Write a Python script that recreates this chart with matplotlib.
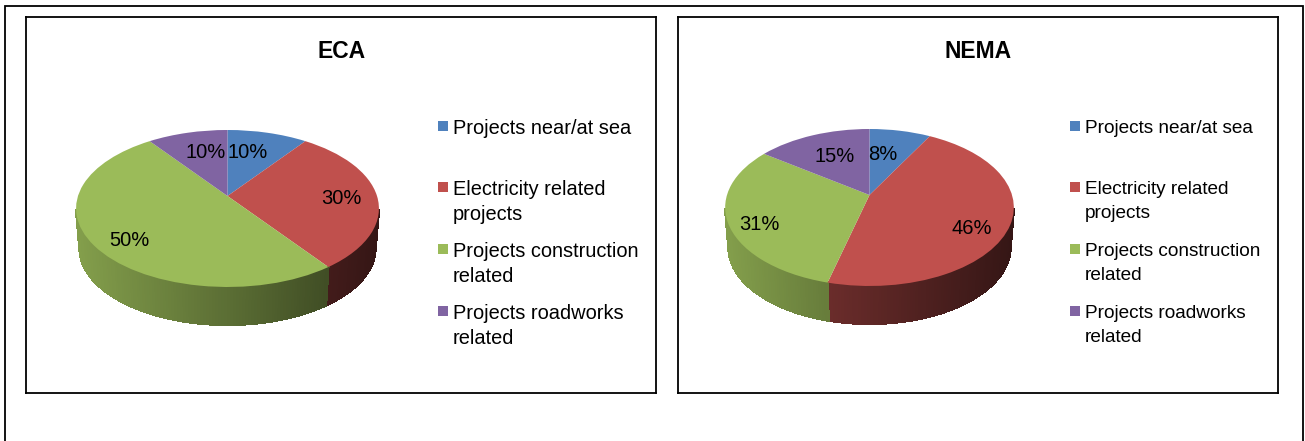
import numpy as np
import matplotlib
matplotlib.use("Agg")
import matplotlib.pyplot as plt
from matplotlib.collections import PolyCollection
from matplotlib.colors import to_rgb
from matplotlib.lines import Line2D
from matplotlib.patches import Rectangle
from matplotlib.path import Path
from matplotlib.transforms import Transform

plt.rcParams["font.family"] = ["Liberation Sans", "DejaVu Sans"]

# Chart data
categories = [
    "Projects near/at sea",
    "Electricity related\nprojects",
    "Projects construction\nrelated",
    "Projects roadworks\nrelated",
]
eca_values = [10, 30, 50, 10]
nema_values = [8, 46, 31, 15]
colors = ["#4F81BD", "#C0504D", "#9BBB59", "#8064A2"]
wall_gain = [1.0, 0.84, 1.0, 1.0]

W, H = 1305, 441
STROKE = 1.8 * 72 / 100


class DiscProjection(Transform):
    """Perspective view of the unit disc, in pixel-like data coordinates."""
    input_dims = output_dims = 2
    has_inverse = False
    is_affine = False

    def __init__(self, cx, cy, a, b, k):
        super().__init__()
        self.cx, self.cy, self.a, self.b, self.k = cx, cy, a, b, k

    def transform_non_affine(self, xy):
        xy = np.asarray(xy, float)
        d = 1 + self.k * xy[:, 1]
        return np.column_stack([self.cx + self.a * xy[:, 0] / d,
                                self.cy - self.b * xy[:, 1] / d])

    def transform_path_non_affine(self, path):
        return Path(self.transform_non_affine(path.vertices), path.codes)


def draw_panel(box, title, title_x, values, centre, a, label_xy, legend_x, legend_size,
               legend_spacing, legend_offset):
    x0, y0, x1, y1 = box
    ax = fig.add_axes([x0 / W, 1 - y1 / H, (x1 - x0) / W, (y1 - y0) / H])
    wedges, _ = ax.pie(values, colors=colors, startangle=90, counterclock=False,
                       wedgeprops=dict(linewidth=0))
    ax.set_aspect("auto")
    ax.set(frame_on=True, xlim=(x0, x1), ylim=(y1, y0), xticks=[], yticks=[])
    for s in ax.spines.values():
        s.set_linewidth(STROKE)
        s.set_color("black")

    proj = DiscProjection(centre[0], centre[1], a, 76.5, 0.159)
    for w in wedges:
        w.set_transform(proj + ax.transData)
        w.set_zorder(3)

    # Side wall of the disc, shaded from left to right
    depth, shrink = 40, 0.977
    left, right = centre[0] - a * 1.013, centre[0] + a * 1.013
    for w, col, gain in zip(wedges, colors, wall_gain):
        lo, hi = max(w.theta1, -170), min(w.theta2, -10)
        if hi <= lo:
            continue
        phi = np.radians(np.linspace(lo, hi, int(hi - lo) + 2))
        top = proj.transform_non_affine(np.column_stack([np.cos(phi), np.sin(phi)]))
        bot = np.column_stack([centre[0] + (top[:, 0] - centre[0]) * shrink,
                               centre[1] + (top[:, 1] - centre[1]) * shrink + depth])
        base = np.array(to_rgb(col))
        polys, faces = [], []
        for i in range(len(phi) - 1):
            polys.append([top[i], top[i + 1], bot[i + 1], bot[i]])
            u = ((top[i, 0] + top[i + 1, 0]) / 2 - left) / (right - left)
            faces.append(np.clip(base * gain * (0.85 - 0.52 * u), 0, 1))
        ax.add_collection(PolyCollection(polys, facecolors=faces, edgecolors=faces,
                                         linewidths=1.0, antialiaseds=False, zorder=2))

    ax.text(title_x + 0.5, 51, title, ha="center", va="center", fontsize=16.5,
            fontweight="bold", color="black")
    for v, (lx, ly) in zip(values, label_xy):
        ax.text(lx, ly, f"{v}%", ha="center", va="center", fontsize=14.5, color="black",
                zorder=5)

    # Legend column
    for name, col, ly in zip(categories, colors, [127, 188, 250, 312]):
        ax.add_patch(Rectangle((legend_x, ly - 6), 10, 10, facecolor=col, edgecolor="none"))
        ax.text(legend_x + 15, ly + legend_offset, name, ha="left", va="top",
                fontsize=legend_size, linespacing=legend_spacing, color="black")


fig = plt.figure(figsize=(W / 100, H / 100), dpi=100, facecolor="white")

# Outer frame, open at the bottom
fig.add_artist(Line2D([4.5 / W, 4.5 / W, 1303 / W, 1303 / W],
                      [0, 1 - 6 / H, 1 - 6 / H, 0],
                      color="black", linewidth=STROKE, solid_joinstyle="miter"))

draw_panel((26, 17, 656, 393), "ECA", 341, eca_values, (227.5, 196), 149.5,
           [(248, 153), (341, 198), (129, 240), (206, 153)], 438, 14.4, 1.42, -8)
draw_panel((678, 17, 1278, 393), "NEMA", 978, nema_values, (869.5, 195), 142.5,
           [(883, 154), (972, 229), (759, 224), (835, 156)], 1070, 13.7, 1.5, -7)

fig.savefig("out.png", dpi=100, facecolor="white")
